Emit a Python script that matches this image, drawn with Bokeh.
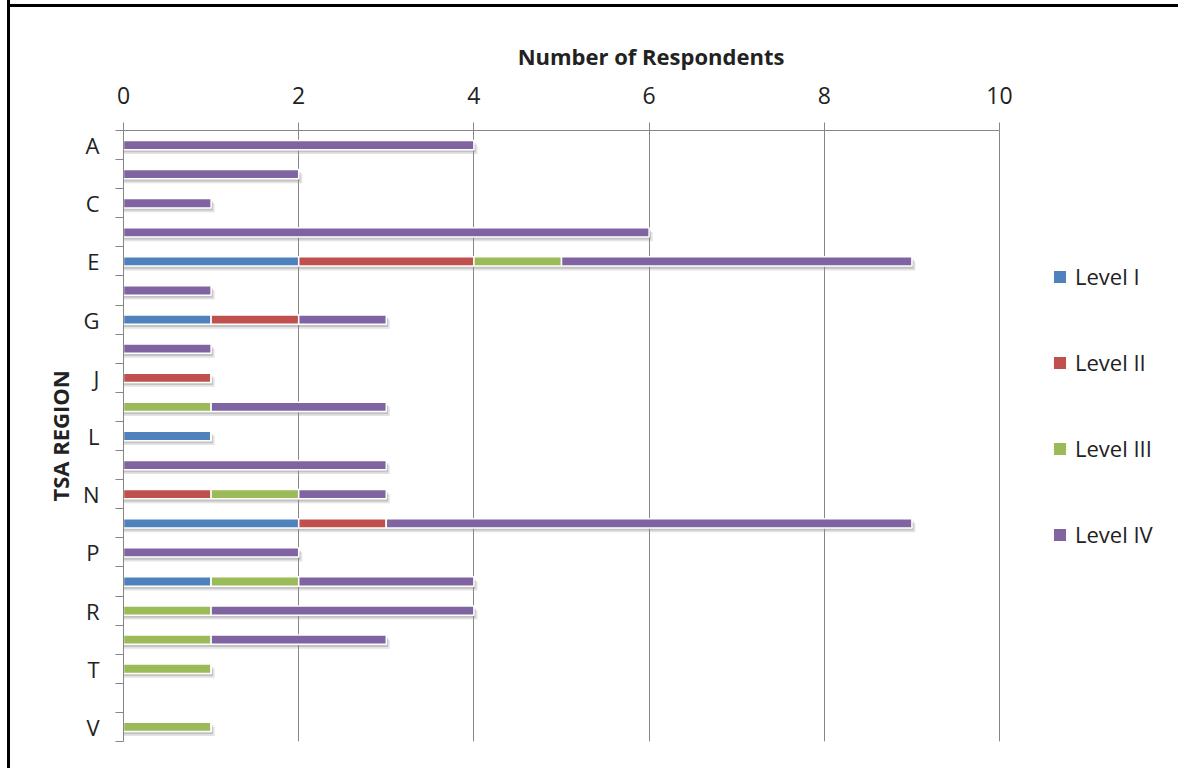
from bokeh.plotting import figure
from bokeh.models import (ColumnDataSource, Range1d, FixedTicker, Legend, LegendItem,
                          CDSView, BooleanFilter)
from bokeh.transform import dodge
from bokeh.embed import file_html
from bokeh.resources import INLINE

# TSA regions (I is not used) and respondents per trauma level
regions = ["A", "B", "C", "D", "E", "F", "G", "H", "J", "K", "L",
           "M", "N", "O", "P", "Q", "R", "S", "T", "U", "V"]
level_1 = [0, 0, 0, 0, 2, 0, 1, 0, 0, 0, 1, 0, 0, 2, 0, 1, 0, 0, 0, 0, 0]
level_2 = [0, 0, 0, 0, 2, 0, 1, 0, 1, 0, 0, 0, 1, 1, 0, 0, 0, 0, 0, 0, 0]
level_3 = [0, 0, 0, 0, 1, 0, 0, 0, 0, 1, 0, 0, 1, 0, 0, 1, 1, 1, 1, 0, 1]
level_4 = [4, 2, 1, 6, 4, 1, 1, 1, 0, 2, 0, 3, 1, 6, 2, 2, 3, 2, 0, 0, 0]
x_ticks = [0, 2, 4, 6, 8, 10]

series = ["Level I", "Level II", "Level III", "Level IV"]
colors = ["#4F81BD", "#C0504D", "#9BBB59", "#8064A2"]

n = len(regions)
centers = [i + 0.5 for i in range(n)]
totals = [a + b + c + d for a, b, c, d in zip(level_1, level_2, level_3, level_4)]

source = ColumnDataSource(data={
    "y": centers,
    "Level I": level_1,
    "Level II": level_2,
    "Level III": level_3,
    "Level IV": level_4,
    "total": totals,
})
has_bar = CDSView(filter=BooleanFilter([t > 0 for t in totals]))

FONT = "Open Sans"
GREY = "#868686"
TEXT = "#222222"

W, H = 1178, 768
LEFT, TOP, BOTTOM = 123, 130, 27
px_per_unit = 87.6
x_end = (W - LEFT) / px_per_unit   # room on the right for the legend

p = figure(width=W, height=H,
           x_range=Range1d(0, x_end), y_range=Range1d(n, 0),
           x_axis_location="above",
           output_backend="svg", toolbar_location=None,
           min_border_left=LEFT, min_border_top=TOP,
           min_border_right=0, min_border_bottom=BOTTOM)
p.outline_line_color = None
p.background_fill_color = "white"
p.border_fill_alpha = 0
# thick black frame line along the left and top edges of the chart
p.styles = {
    "background": ("linear-gradient(90deg, transparent 7px, #000 7px, #000 10px, transparent 10px), "
                   "linear-gradient(180deg, transparent 4px, #000 4px, #000 7px, transparent 7px) "
                   "7px 0 / 1171px 20px no-repeat, #fff"),
}

# soft drop shadow under every bar
bar_h = 0.32
p.hbar(y=dodge("y", 0.15, range=p.y_range), left=0, right=dodge("total", 0.04),
       height=bar_h, source=source, view=has_bar, fill_color="#9a9a9a", fill_alpha=0.28,
       line_color=None)
p.hbar(y=dodge("y", 0.09, range=p.y_range), left=0, right=dodge("total", 0.02),
       height=bar_h, source=source, view=has_bar, fill_color="#808080", fill_alpha=0.32,
       line_color=None)

renderers = p.hbar_stack(series, y="y", height=bar_h, source=source,
                         fill_color=colors, line_color="white", line_width=1.5)

# top value axis
xa = p.xaxis[0]
xa.ticker = FixedTicker(ticks=x_ticks)
xa.bounds = (0, 10)
xa.axis_label = "Number of Respondents"
xa.axis_label_text_font = FONT
xa.axis_label_text_font_style = "bold"
xa.axis_label_text_font_size = "22px"
xa.axis_label_text_color = TEXT
xa.axis_label_standoff = 13
xa.major_label_text_font = FONT
xa.major_label_text_font_size = "23px"
xa.major_label_text_color = TEXT
xa.major_label_standoff = 19
xa.major_tick_out = 8
xa.major_tick_in = 0
xa.minor_tick_out = 0
xa.minor_tick_in = 0
xa.axis_line_color = GREY
xa.major_tick_line_color = GREY

# region axis: labels on every other region, ticks between regions
ya = p.yaxis[0]
ya.ticker = FixedTicker(ticks=centers[::2], minor_ticks=list(range(n + 1)))
ya.major_label_overrides = {c: regions[i] for i, c in enumerate(centers) if i % 2 == 0}
ya.axis_label = "TSA REGION"
ya.axis_label_text_font = FONT
ya.axis_label_text_font_style = "bold"
ya.axis_label_text_font_size = "22px"
ya.axis_label_text_color = TEXT
ya.axis_label_standoff = 5
ya.major_label_text_font = FONT
ya.major_label_text_font_size = "22px"
ya.major_label_text_color = TEXT
ya.major_label_standoff = 16
ya.major_tick_out = 0
ya.major_tick_in = 0
ya.minor_tick_out = 8
ya.minor_tick_in = 0
ya.minor_tick_line_color = GREY
ya.axis_line_color = GREY

p.xgrid.ticker = FixedTicker(ticks=x_ticks)
p.xgrid.grid_line_color = GREY
p.ygrid.grid_line_color = None

legend = Legend(items=[LegendItem(label=s, renderers=[r]) for s, r in zip(series, renderers)],
                location=(928, 192))
legend.label_text_font = FONT
legend.label_text_font_size = "22px"
legend.label_text_color = TEXT
legend.glyph_width = 17
legend.glyph_height = 17
legend.label_height = 20
legend.label_standoff = 7
legend.spacing = 56
legend.margin = 0
legend.padding = 8
legend.border_line_color = None
legend.background_fill_alpha = 0
p.add_layout(legend)

open("out.html", "w").write(file_html(p, INLINE))
